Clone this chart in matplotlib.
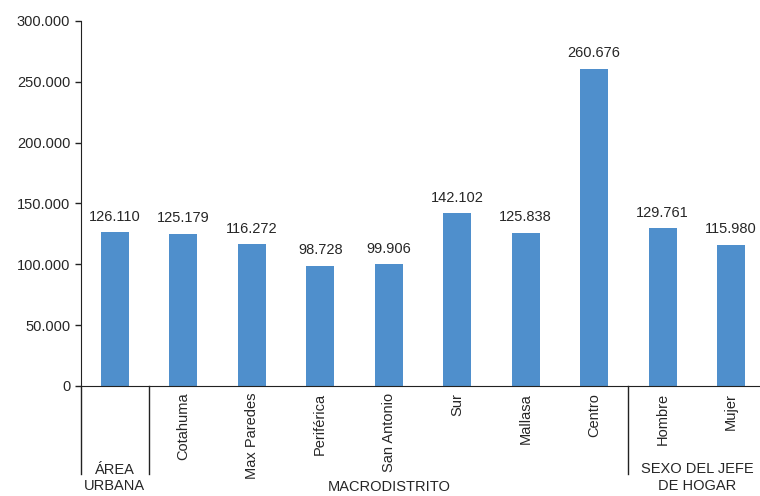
import matplotlib.pyplot as plt
from matplotlib import transforms

categorias = ['', 'Cotahuma', 'Max Paredes', 'Periférica', 'San Antonio',
              'Sur', 'Mallasa', 'Centro', 'Hombre', 'Mujer']
ingresos = [126110, 125179, 116272, 98728, 99906,
            142102, 125838, 260676, 129761, 115980]
grupos = ['ÁREA\nURBANA', 'MACRODISTRITO', 'SEXO DEL JEFE\nDE HOGAR']
grupo_centro = [0, 4, 8.5]
separadores = [-0.5, 0.5, 7.5]

plt.rcParams['font.family'] = ['Liberation Sans', 'DejaVu Sans']
texto = '#262626'
fs = 10.5

fig = plt.figure(figsize=(7.6, 4.96), dpi=100)
ax = fig.add_axes([0.106, 0.222, 0.901, 0.736])

x = range(len(ingresos))
ax.bar(x, ingresos, width=0.41, color='#4F8FCC')

# etiquetas de valor con punto como separador de miles
for i, v in zip(x, ingresos):
    ax.annotate(f'{v:,}'.replace(',', '.'), (i, v), xytext=(0, 6),
                textcoords='offset points', ha='center', va='bottom',
                fontsize=fs, color=texto)

ax.set_xlim(-0.5, 9.5)
ax.set_ylim(0, 300000)
ax.set_yticks(range(0, 300001, 50000))
ax.set_yticklabels([f'{t:,}'.replace(',', '.') for t in range(0, 300001, 50000)])
ax.set_xticks(list(x))
ax.set_xticklabels(categorias, rotation=90, va='top', ha='center')
ax.tick_params(axis='x', length=0, pad=5, labelsize=fs, labelcolor=texto)
ax.tick_params(axis='y', length=4, width=1, labelsize=fs, labelcolor=texto,
               direction='out', color='#222222')

for s in ['top', 'right']:
    ax.spines[s].set_visible(False)
ax.spines['left'].set_color('#222222')
ax.spines['bottom'].set_color('#222222')

# líneas que separan los grupos bajo el eje
tr = transforms.blended_transform_factory(ax.transData, ax.transAxes)
for s in separadores:
    ax.plot([s, s], [0, -0.242], transform=tr, color='#222222',
            lw=1, clip_on=False)

ax.text(grupo_centro[0], -0.21, grupos[0], transform=tr, ha='center',
        va='top', fontsize=fs, color=texto, linespacing=1.25)
ax.text(grupo_centro[1], -0.257, grupos[1], transform=tr, ha='center',
        va='top', fontsize=fs, color=texto)
ax.text(grupo_centro[2], -0.208, grupos[2], transform=tr, ha='center',
        va='top', fontsize=fs, color=texto, linespacing=1.25)

fig.savefig('out.png', dpi=100)
